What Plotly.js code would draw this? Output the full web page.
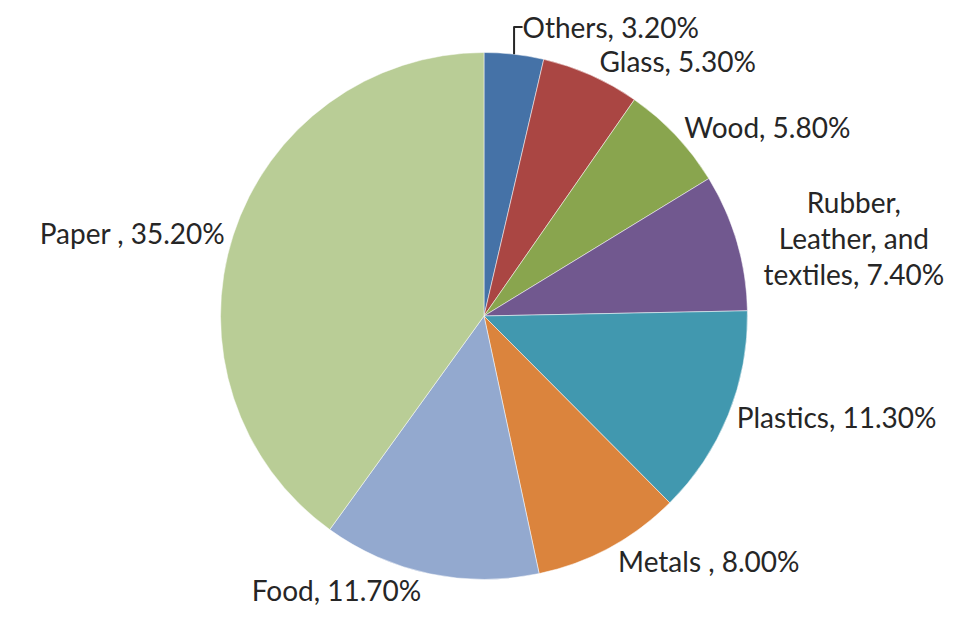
<!DOCTYPE html>
<html>
<head>
<meta charset="utf-8">
<script src="https://cdn.plot.ly/plotly-3.0.1.min.js"></script>
<style>html,body{margin:0;padding:0;background:#fff;}#chart{width:968px;height:622px;}</style>
</head>
<body>
<div id="chart"></div>
<script>
const categories = ["Others", "Glass", "Wood", "Rubber,<br>Leather, and<br>textiles", "Plastics", "Metals ", "Food", "Paper "];
const shares = [3.2, 5.3, 5.8, 7.4, 11.3, 8.0, 11.7, 35.2];
const colors = ["#4572A7", "#AA4643", "#89A54E", "#71588F", "#4198AF", "#DB843D", "#93A9CF", "#B9CD96"];

const labelTexts = categories.map((c, i) => c + ", " + shares[i].toFixed(2) + "%");

const trace = {
  type: "pie",
  labels: categories,
  values: shares,
  text: labelTexts,
  textinfo: "text",
  textposition: "outside",
  sort: false,
  direction: "clockwise",
  rotation: 0,
  marker: {colors: colors, line: {color: "#ffffff", width: 0.5}},
  outsidetextfont: {family: "Lato, 'Open Sans', sans-serif", size: 28, color: "#262626"},
  domain: {x: [0.2278, 0.7722], y: [0.0684, 0.9156]},
  hoverinfo: "label+percent",
  showlegend: false
};

const layout = {
  width: 968, height: 622,
  margin: {l: 0, r: 0, t: 0, b: 0},
  paper_bgcolor: "#ffffff",
  showlegend: false
};

Plotly.newPlot("chart", [trace], layout, {displayModeBar: false, staticPlot: true});
</script>
</body>
</html>
